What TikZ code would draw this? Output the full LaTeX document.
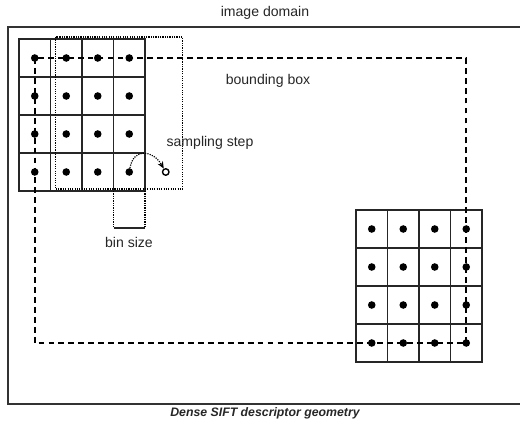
\documentclass[tikz,border=0pt]{standalone}
\usepackage{fontspec}
\setmainfont{Liberation Sans}
\usetikzlibrary{arrows.meta}

\begin{document}
\begin{tikzpicture}[x=0.03cm, y=0.03cm, every node/.style={font=\fontsize{12}{14}\selectfont, text=black!85},
	cell/.style={draw=black!85, line width=1.3pt},
	bindot/.style={circle, fill=black, inner sep=0pt, minimum size=6.5pt},
	bbox/.style={line width=1.3pt, dash pattern=on 5pt off 3.5pt},
	fine/.style={line width=1pt, dash pattern=on 1pt off 1pt}]
	\useasboundingbox (0,0) rectangle (520,-425);
	% image domain
	\draw[black!80, line width=1.4pt] (521,-27) -- (8,-27) -- (8,-404) -- (521,-404);
	\node (domain) at (265,-13) {image domain};
	% descriptor at the first sample
	\foreach \c in {0,...,3}
		\foreach \r in {0,...,3} {
			\draw[cell] (19+31.5*\c,-39-38*\r) rectangle ++(31.5,-38);
			\node[bindot] (L-\c-\r) at (34.75+31.5*\c,-58-38*\r) {};
		}
	% descriptor at the last sample
	\foreach \c in {0,...,3}
		\foreach \r in {0,...,3} {
			\draw[cell] (356+31.5*\c,-210-38*\r) rectangle ++(31.5,-38);
			\node[bindot] (R-\c-\r) at (371.75+31.5*\c,-229-38*\r) {};
		}
	% bounding box of the sample centres
	\draw[bbox] (L-0-0.center) rectangle (R-3-3.center);
	\node (bboxlabel) at (268,-81) {bounding box};
	% next descriptor, one step to the right
	\draw[fine] (55.5,-37) rectangle (182.5,-189);
	\node[circle, draw=black, line width=1.2pt, inner sep=0pt, minimum size=5.5pt] (next) at (165.75,-172) {};
	\draw[fine, -{Stealth[length=6pt, width=5pt]}] (L-3-3) to[out=80, in=120, looseness=1.6] (next);
	\node (steplabel) at (210,-143) {sampling step};
	% bin size
	\draw[fine] (113.5,-191) -- (113.5,-228);
	\draw[fine] (145,-191) -- (145,-228);
	\draw[black!85, line width=1.3pt] (113.5,-228) -- (145,-228);
	\node (binlabel) at (129,-242) {bin size};
	% caption
	\node[font=\fontsize{10.5}{12}\selectfont\bfseries\itshape] (caption) at (265,-413) {Dense SIFT descriptor geometry};
\end{tikzpicture}
\end{document}
